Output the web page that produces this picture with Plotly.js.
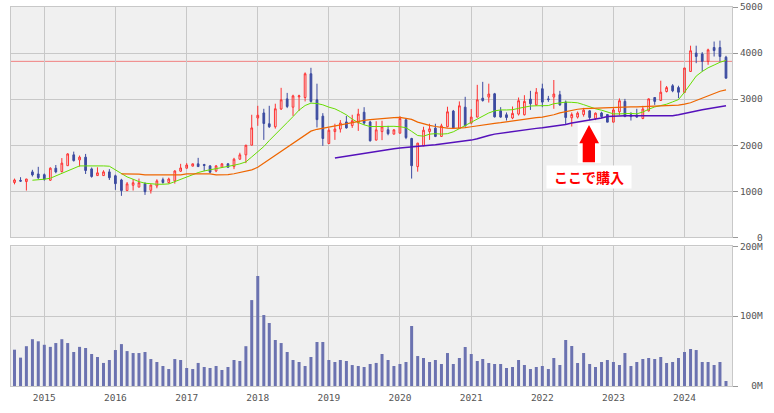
<!DOCTYPE html>
<html>
<head>
<meta charset="utf-8">
<script src="https://cdn.plot.ly/plotly-3.0.1.min.js"></script>
<style>html,body{margin:0;padding:0;background:#fff;}#chart{width:774px;height:413px;}</style>
</head>
<body>
<div id="chart"></div>
<script>
// Months (Aug 2014 - Aug 2024)
const months = [
 '2014-08','2014-09','2014-10','2014-11','2014-12',
 '2015-01','2015-02','2015-03','2015-04','2015-05','2015-06','2015-07','2015-08','2015-09','2015-10','2015-11','2015-12',
 '2016-01','2016-02','2016-03','2016-04','2016-05','2016-06','2016-07','2016-08','2016-09','2016-10','2016-11','2016-12',
 '2017-01','2017-02','2017-03','2017-04','2017-05','2017-06','2017-07','2017-08','2017-09','2017-10','2017-11','2017-12',
 '2018-01','2018-02','2018-03','2018-04','2018-05','2018-06','2018-07','2018-08','2018-09','2018-10','2018-11','2018-12',
 '2019-01','2019-02','2019-03','2019-04','2019-05','2019-06','2019-07','2019-08','2019-09','2019-10','2019-11','2019-12',
 '2020-01','2020-02','2020-03','2020-04','2020-05','2020-06','2020-07','2020-08','2020-09','2020-10','2020-11','2020-12',
 '2021-01','2021-02','2021-03','2021-04','2021-05','2021-06','2021-07','2021-08','2021-09','2021-10','2021-11','2021-12',
 '2022-01','2022-02','2022-03','2022-04','2022-05','2022-06','2022-07','2022-08','2022-09','2022-10','2022-11','2022-12',
 '2023-01','2023-02','2023-03','2023-04','2023-05','2023-06','2023-07','2023-08','2023-09','2023-10','2023-11','2023-12',
 '2024-01','2024-02','2024-03','2024-04','2024-05','2024-06','2024-07','2024-08'
];
const openP = [
 1190,1235,1210,1420,1375,
 1360,1240,1500,1425,1555,1790,1680,1740,1485,1340,1340,1420,
 1335,1245,1015,1130,1090,1165,1020,1115,1250,1190,1225,1435,
 1500,1545,1595,1580,1550,1440,1520,1595,1535,1695,1790,2000,
 2590,2700,2465,2400,2785,3005,2825,3050,3035,3550,2985,2630,
 2035,2295,2350,2505,2425,2485,2715,2505,2110,2295,2335,2240,
 2260,2550,2145,1535,1985,2295,2370,2190,2400,2740,2360,2825,
 2480,2610,3020,3045,3115,2745,2660,2590,2675,2660,3000,2875,
 3225,3005,3045,3095,2935,2595,2610,2665,2745,2580,2700,2665,
 2500,2725,2950,2660,2655,2580,2745,3035,2970,3165,3290,3250,
 3145,3600,4000,3980,3820,4120,4120,3910
];
const highP = [
 1275,1305,1270,1465,1530,
 1385,1520,1570,1720,1825,1860,1775,1810,1515,1520,1455,1480,
 1360,1270,1200,1265,1275,1195,1145,1260,1295,1295,1455,1595,
 1610,1600,1725,1595,1570,1570,1610,1610,1725,1835,2005,2660,
 2855,2790,2855,2900,3245,3135,3095,3095,3580,3680,3335,2695,
 2370,2465,2545,2635,2660,2790,2825,2530,2520,2530,2420,2345,
 2630,2585,2160,2050,2400,2465,2465,2465,2835,2765,2950,3050,
 2785,3310,3375,3335,3135,2825,2710,2840,3035,3085,3180,3240,
 3335,3070,3415,3180,2970,2710,2730,2810,2760,2710,2725,2670,
 2805,3015,3005,2715,2790,2855,3015,3045,3400,3285,3325,3290,
 3680,4160,4160,4020,4095,4250,4270,3940
];
const lowP = [
 1150,1205,1015,1320,1265,
 1230,1225,1390,1410,1555,1645,1535,1375,1295,1335,1335,1245,
 1030,900,1010,1015,1085,920,950,1065,1165,1165,1165,1420,
 1495,1540,1535,1435,1390,1415,1515,1515,1480,1690,1610,2000,
 2420,2115,2375,2360,2765,2805,2635,2745,2950,2925,2385,1985,
 2030,2115,2275,2360,2375,2310,2440,2080,2105,2110,2215,2235,
 2255,2130,1275,1425,1980,2115,2175,2180,2390,2365,2355,2405,
 2455,2605,2945,2925,2600,2595,2535,2565,2645,2645,2765,2855,
 2825,2940,2790,2855,2455,2405,2580,2620,2545,2545,2585,2500,
 2495,2650,2610,2535,2595,2565,2730,2875,2965,3145,3150,3020,
 3140,3595,3780,3600,3745,3925,3815,3450
];
const closeP = [
 1245,1220,1265,1355,1295,
 1260,1500,1420,1610,1810,1665,1740,1450,1320,1400,1420,1295,
 1165,1015,1160,1185,1185,990,1135,1225,1190,1265,1440,1505,
 1570,1595,1535,1560,1415,1550,1595,1520,1695,1790,2000,2375,
 2650,2470,2400,2790,2985,2840,3070,3070,3550,2950,2555,2145,
 2325,2350,2480,2375,2530,2675,2480,2095,2333,2400,2250,2333,
 2580,2165,1555,2045,2325,2355,2190,2420,2725,2375,2855,2420,
 2610,2985,2970,3110,2615,2610,2600,2690,2965,2950,2900,3150,
 2935,2990,3110,2875,2600,2665,2695,2760,2600,2695,2620,2500,
 2765,2965,2620,2620,2610,2785,3005,2950,3150,3250,3180,3150,
 3675,4050,3925,3820,4070,4055,3925,3455
];
// Moving averages
const maShort = [
 null,null,null,1239,1245,
 1261,1283,1333,1391,1448,1500,1550,1550,1550,1565,1550,1543,
 1463,1376,1311,1261,1209,1174,1159,1152,1152,1159,1209,1261,
 1311,1361,1405,1441,1463,1485,1513,1543,1565,1594,1637,1745,
 1860,1970,2100,2239,2361,2491,2620,2760,2861,2913,2905,2876,
 2826,2789,2731,2659,2565,2491,2441,2405,2405,2410,2410,2410,
 2400,2380,2300,2210,2195,2240,2250,2240,2250,2290,2360,2430,
 2500,2570,2630,2700,2745,2765,2765,2770,2800,2830,2850,2855,
 2855,2860,2900,2925,2935,2930,2920,2880,2830,2790,2760,2720,
 2680,2680,2690,2690,2680,2720,2780,2830,2860,2890,2940,2990,
 3150,3330,3500,3600,3680,3740,3800,3840
];
const maMid = [
 null,null,null,null,null,
 null,null,null,null,null,null,null,null,null,null,null,null,
 null,1376,1376,1376,1370,1355,1355,1355,1355,1355,1355,1355,
 1375,1375,1375,1375,1375,1355,1355,1360,1380,1405,1435,1465,
 1520,1610,1700,1785,1870,1960,2040,2140,2230,2305,2345,2370,
 2390,2420,2440,2460,2480,2510,2540,2555,2570,2585,2595,2600,
 2605,2590,2560,2500,2460,2430,2405,2385,2370,2365,2370,2380,
 2400,2420,2450,2465,2475,2490,2510,2530,2550,2575,2590,2600,
 2610,2630,2660,2700,2730,2750,2780,2795,2800,2805,2815,2825,
 2830,2830,2830,2830,2830,2835,2835,2840,2845,2850,2860,2870,
 2890,2920,2970,3020,3080,3130,3170,3200
];
const maLong = [
 null,null,null,null,null,
 null,null,null,null,null,null,null,null,null,null,null,null,
 null,null,null,null,null,null,null,null,null,null,null,null,
 null,null,null,null,null,null,null,null,null,null,null,null,
 null,null,null,null,null,null,null,null,null,null,null,null,
 null,1720,1740,1760,1780,1800,1820,1840,1860,1880,1900,1920,
 1940,1955,1970,1980,1990,2000,2010,2025,2040,2055,2070,2090,
 2110,2140,2180,2210,2240,2260,2280,2300,2320,2335,2350,2365,
 2380,2395,2410,2430,2450,2480,2500,2520,2540,2560,2590,2620,
 2630,2640,2640,2640,2640,2640,2640,2640,2640,2640,2640,2660,
 2690,2720,2745,2770,2790,2810,2830,2855
];
// Volume in millions
const volumeM = [
 52,40.6,57,67,64,
 59,56,61.5,67,61.5,48.7,56,54.4,45.8,41.5,33,37.2,
 51.5,60,50,47.2,47.2,48.7,38.6,34.4,28.6,24.3,38.6,37.2,
 25.8,24.3,33,27.2,25.8,28.6,22.9,27.2,37.2,35.8,57,123,
 157.5,101.6,90.2,65.9,61.5,48.7,37.2,34.4,28.6,41.5,63,63,
 37.2,34.4,37.2,35.8,30,28.6,27.2,31.5,33,45.8,37.2,28.6,
 31.5,34.4,85.9,42.9,40.1,34.4,37.2,31.5,47.2,31.5,40.1,55.8,
 45.8,35.8,38.7,32.9,31.5,31.5,25.8,27.2,37.2,30.1,24.3,27.2,
 28.6,24.3,40.1,30.1,65.9,57.3,32.9,47.2,31.5,27.2,34.4,37.2,
 34.4,30.1,47.2,28.6,34.4,38.7,40.1,38.7,41.5,32.9,34.4,40.1,
 48.7,53,51.5,34.4,34.4,30.1,34.4,7.2
];
const buyLevel = 3820;
const priceTicks = [0,1000,2000,3000,4000,5000];
const priceTickText = ['\u00a0\u00a0\u00a00','1000','2000','3000','4000','5000'];
const volTicks = [0,100,200];
const volTickText = ['\u00a0\u00a00M','100M','200M'];
const noteText = 'ここで購入';

const gridC = '#c8c8c8';
const tickFont = {family:'DejaVu Sans Mono', size:9.5, color:'#555'};

const traces = [
 {type:'candlestick', x:months, open:openP, high:highP, low:lowP, close:closeP,
  xaxis:'x2', yaxis:'y2', hoverinfo:'skip',
  increasing:{line:{color:'#ff3030', width:1}, fillcolor:'rgba(255,255,255,0)'},
  decreasing:{line:{color:'#3c4ba0', width:1}, fillcolor:'#3c4ba0'},
  whiskerwidth:0, showlegend:false},
 {type:'scatter', mode:'lines', x:months, y:maShort, xaxis:'x2', yaxis:'y2',
  line:{color:'#66dd00', width:1}, showlegend:false, hoverinfo:'skip'},
 {type:'scatter', mode:'lines', x:months, y:maMid, xaxis:'x2', yaxis:'y2',
  line:{color:'#ee6600', width:1.2}, showlegend:false, hoverinfo:'skip'},
 {type:'scatter', mode:'lines', x:months, y:maLong, xaxis:'x2', yaxis:'y2',
  line:{color:'#5511bb', width:1.5}, showlegend:false, hoverinfo:'skip'},
 {type:'bar', x:months, y:volumeM, xaxis:'x', yaxis:'y',
  marker:{color:'#6b72b0', line:{width:0}}, width:1.33e9, showlegend:false, hoverinfo:'skip'}
];

const W = 774, H = 413, L = 11, R = 42, T = 7, B = 27;
const pw = W - L - R, ph = H - T - B;
const px = v => (v - L) / pw;
const py = v => (H - B - v) / ph;

const xr = ['2014-07-14', '2024-08-31 20:00'];
const layout = {
 width:W, height:H,
 margin:{l:L, r:R, t:T, b:B, pad:0},
 paper_bgcolor:'#ffffff', plot_bgcolor:'#f0f0f0',
 showlegend:false, boxgap:0.55,
 xaxis:{type:'date', range:xr, anchor:'y', dtick:'M12', tick0:'2015-01-01', tickformat:'%Y',
  showgrid:true, gridcolor:gridC, gridwidth:1, showline:true, mirror:true, linecolor:gridC, linewidth:1,
  ticks:'', tickfont:tickFont, ticklabelstandoff:3, zeroline:false, rangeslider:{visible:false}, fixedrange:true},
 xaxis2:{type:'date', range:xr, anchor:'y2', matches:'x', dtick:'M12', tick0:'2015-01-01',
  showgrid:true, gridcolor:gridC, gridwidth:1, showline:true, mirror:true, linecolor:gridC, linewidth:1,
  showticklabels:false, ticks:'', zeroline:false, rangeslider:{visible:false}, fixedrange:true},
 yaxis:{domain:[0, py(246.3)], range:[0,200], side:'right', anchor:'x',
  tickvals:volTicks, ticktext:volTickText, tickfont:tickFont,
  showgrid:true, gridcolor:gridC, gridwidth:1, showline:true, mirror:true, linecolor:gridC, linewidth:1,
  ticks:'outside', ticklen:5, tickcolor:'#999', zeroline:false, fixedrange:true},
 yaxis2:{domain:[py(237.3), 1], range:[0,5000], side:'right', anchor:'x2',
  tickvals:priceTicks, ticktext:priceTickText, tickfont:tickFont,
  showgrid:true, gridcolor:gridC, gridwidth:1, showline:true, mirror:true, linecolor:gridC, linewidth:1,
  ticks:'outside', ticklen:5, tickcolor:'#999', zeroline:false, fixedrange:true},
 shapes:[
  {type:'line', xref:'x2 domain', yref:'y2', x0:0, x1:1, y0:buyLevel, y1:buyLevel,
   line:{color:'#f08080', width:1}, layer:'below'},
  {type:'rect', xref:'paper', yref:'paper', x0:px(577.7), x1:px(600.7), y0:py(163), y1:py(123),
   fillcolor:'#ffffff', line:{width:0}, layer:'above'},
  {type:'path', xref:'paper', yref:'paper',
   path:'M '+px(589)+' '+py(125)+' L '+px(599)+' '+py(143.3)+' L '+px(595)+' '+py(143.3)+' L '+px(595)+' '+py(162.3)+
        ' L '+px(582.7)+' '+py(162.3)+' L '+px(582.7)+' '+py(143.3)+' L '+px(579.3)+' '+py(143.3)+' Z',
   fillcolor:'#ff0000', line:{width:0}, layer:'above'}
 ],
 annotations:[
  {xref:'paper', yref:'paper', x:px(588.7), y:py(177.5), xanchor:'center', yanchor:'middle',
   text:noteText, showarrow:false, bgcolor:'#ffffff', borderpad:2, width:80, height:18,
   font:{family:'Noto Sans CJK JP', size:14, color:'#ff0000', weight:'bold'}}
 ]
};

Plotly.newPlot('chart', traces, layout, {staticPlot:true, displayModeBar:false});
</script>
</body>
</html>
